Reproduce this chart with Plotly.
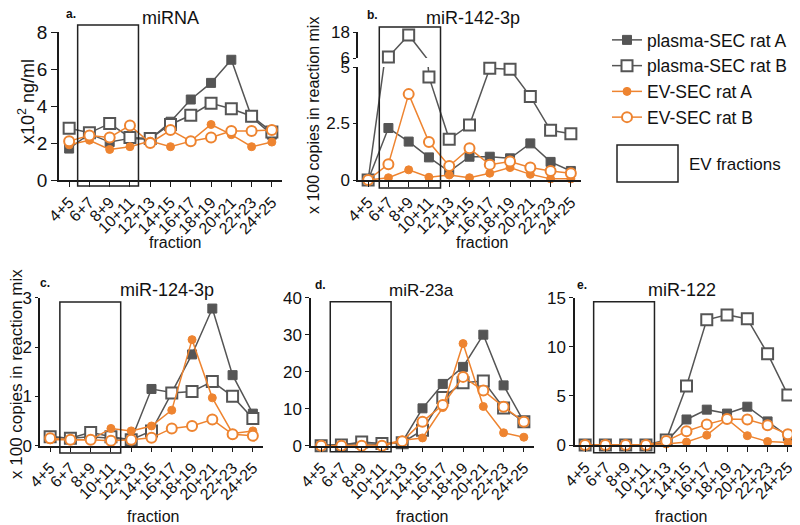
import plotly.graph_objects as go

categories = ["4+5", "6+7", "8+9", "10+11", "12+13", "14+15",
              "16+17", "18+19", "20+21", "22+23", "24+25"]
series_names = ["plasma-SEC rat A", "plasma-SEC rat B", "EV-SEC rat A", "EV-SEC rat B"]

# panel a: miRNA (x10^2 ng/ml)
a_plasma_A = [1.7, 2.5, 2.05, 2.25, 2.2, 3.15, 4.35, 5.25, 6.5, 3.4, 2.45]
a_plasma_B = [2.8, 2.55, 3.05, 2.3, 2.25, 3.0, 3.5, 4.15, 3.85, 3.45, 2.6]
a_EV_A = [1.9, 2.15, 1.65, 1.8, 2.1, 1.8, 2.1, 3.0, 2.45, 1.8, 2.05]
a_EV_B = [2.1, 2.4, 2.3, 2.95, 2.0, 2.7, 2.1, 2.3, 2.65, 2.65, 2.7]

# panel b: miR-142-3p
b_plasma_A = [0, 2.3, 1.7, 1.0, 0.37, 1.03, 1.03, 0.96, 1.62, 0.8, 0.4]
b_plasma_B = [0, 6.5, 16.6, 4.56, 1.8, 2.43, 4.94, 4.9, 3.7, 2.2, 2.05]
b_EV_A = [0, 0.1, 0.45, 0.12, 0.22, 0.1, 0.3, 0.55, 0.25, 0.05, 0.05]
b_EV_B = [0, 0.7, 3.8, 1.68, 0.62, 1.4, 0.68, 0.82, 0.55, 0.4, 0.3]

# panel c: miR-124-3p
c_plasma_A = [0.18, 0.15, 0.18, 0.15, 0.12, 1.15, 1.08, 1.85, 2.78, 1.43, 0.65]
c_plasma_B = [0.18, 0.15, 0.27, 0.18, 0.12, 0.3, 1.07, 1.1, 1.3, 1.0, 0.55]
c_EV_A = [0.12, 0.12, 0.12, 0.35, 0.3, 0.4, 0.72, 2.15, 0.97, 0.25, 0.3]
c_EV_B = [0.15, 0.12, 0.12, 0.1, 0.12, 0.16, 0.35, 0.4, 0.53, 0.23, 0.2]

# panel d: miR-23a
d_plasma_A = [0.1, 0.2, 0.5, 0.3, 1.0, 10.1, 16.7, 21.3, 30.0, 16.3, 6.5]
d_plasma_B = [0.0, 0.2, 1.0, 0.6, 0.8, 4.2, 13.0, 17.0, 17.5, 10.2, 6.5]
d_EV_A = [0.0, 0.0, 0.0, 0.2, 1.5, 2.1, 10.3, 27.6, 10.6, 3.5, 2.3]
d_EV_B = [0.0, 0.0, 0.0, 0.0, 1.2, 6.5, 11.0, 18.6, 14.9, 10.5, 6.5]

# panel e: miR-122
e_plasma_A = [0, 0, 0, 0, 0.3, 2.6, 3.6, 3.2, 3.9, 2.4, 0.9]
e_plasma_B = [0, 0, 0, 0, 0.5, 6.0, 12.75, 13.25, 12.85, 9.3, 5.1]
e_EV_A = [0, 0, 0, 0, 0.1, 0.3, 1.0, 2.65, 0.95, 0.35, 0.25]
e_EV_B = [0, 0, 0, 0, 0.4, 1.4, 2.1, 2.65, 2.6, 2.0, 1.1]

W, H = 800, 525
OX, OY = 8, 8  # page body margin compensation
FONT = "Liberation Sans, Arial, Helvetica, sans-serif"
GREY = "#555555"
ORANGE = "#EE8430"
AXC = "#1a1a1a"


def px(x):
    return (x - OX) / W


def py(y):
    return 1 - (y - OY) / H


styles = [
    dict(line=dict(color=GREY, width=1.5),
         marker=dict(symbol="square", size=9, color=GREY, line=dict(color=GREY, width=1))),
    dict(line=dict(color=GREY, width=1.5),
         marker=dict(symbol="square", size=11, color="white", line=dict(color=GREY, width=2))),
    dict(line=dict(color=ORANGE, width=1.5),
         marker=dict(symbol="circle", size=8, color=ORANGE, line=dict(color=ORANGE, width=1))),
    dict(line=dict(color=ORANGE, width=1.5),
         marker=dict(symbol="circle", size=10, color="white", line=dict(color=ORANGE, width=2))),
]

panels = {
    "a": [a_plasma_A, a_plasma_B, a_EV_A, a_EV_B],
    "b": [b_plasma_A, b_plasma_B, b_EV_A, b_EV_B],
    "c": [c_plasma_A, c_plasma_B, c_EV_A, c_EV_B],
    "d": [d_plasma_A, d_plasma_B, d_EV_A, d_EV_B],
    "e": [e_plasma_A, e_plasma_B, e_EV_A, e_EV_B],
}

axmap = {"a": ("x", "y"), "b": ("x2", "y2"), "c": ("x3", "y4"), "d": ("x4", "y5"), "e": ("x5", "y6")}

fig = go.Figure()
for key, data in panels.items():
    xa, ya = axmap[key]
    for i, vals in enumerate(data):
        fig.add_trace(go.Scatter(
            x=categories, y=vals, mode="lines+markers", name=series_names[i],
            xaxis=xa, yaxis=ya, cliponaxis=False, showlegend=(key == "a"),
            legendgroup=series_names[i], **styles[i]))
        if key == "b":
            fig.add_trace(go.Scatter(
                x=categories, y=vals, mode="lines+markers", name=series_names[i],
                xaxis="x2", yaxis="y3", cliponaxis=False, showlegend=False,
                **styles[i]))


def xaxis(x0, x1, anchor, size=16):
    return dict(domain=[px(x0), px(x1)], anchor=anchor, type="category",
                range=[-0.5, 10.5], showline=True, linecolor=AXC, linewidth=1.5,
                ticks="outside", ticklen=5, tickwidth=1.2, tickcolor=AXC,
                tickangle=-45, tickfont=dict(family=FONT, size=size, color="#111111"),
                showgrid=False, zeroline=False, fixedrange=True, automargin=False)


def yaxis(ybot, ytop, anchor, rng, tickvals, size=17, ticklen=6):
    return dict(domain=[py(ybot), py(ytop)], anchor=anchor, range=rng,
                showline=True, linecolor=AXC, linewidth=1.5,
                ticks="outside", ticklen=ticklen, tickwidth=1.2, tickcolor=AXC,
                tickvals=tickvals, tickfont=dict(family=FONT, size=size, color="#111111"),
                showgrid=False, zeroline=False, fixedrange=True, automargin=False)


fig.update_layout(
    template="none",
    width=W, height=H, margin=dict(l=0, r=0, t=0, b=0, pad=0, autoexpand=False),
    paper_bgcolor="white", plot_bgcolor="white",
    font=dict(family=FONT, color="#111111"),
    xaxis=xaxis(59, 282, "y", 16),
    yaxis=yaxis(180, 32, "x", [0, 8], [0, 2, 4, 6, 8], 19, 6),
    xaxis2=xaxis(358, 581, "y2", 16),
    yaxis2=yaxis(180, 67, "x2", [0, 5], [0, 2.5, 5], 17, 3),
    yaxis3=yaxis(58, 32, "x2", [6, 18], [6, 18], 17, 3),
    xaxis3=xaxis(40, 263, "y4", 16),
    yaxis4=yaxis(445.7, 297.7, "x3", [0, 3], [0, 1, 2, 3], 17, 3),
    xaxis4=xaxis(311, 534, "y5", 16),
    yaxis5=yaxis(445.7, 297.7, "x4", [0, 40], [0, 10, 20, 30, 40], 17, 4),
    xaxis5=xaxis(575, 798, "y6", 16),
    yaxis6=yaxis(445, 297.7, "x5", [0, 15], [0, 5, 10, 15], 17, 4),
    legend=dict(x=px(607), y=py(22), xanchor="left", yanchor="top",
                font=dict(family=FONT, size=17.5, color="#111111"),
                bgcolor="rgba(0,0,0,0)", tracegroupgap=0, itemwidth=30),
)

boxes = [("x", 0.42, 3.42, 186, 25), ("x2", 0.55, 3.57, 188, 27),
         ("x3", 0.48, 3.48, 453, 302), ("x4", 0.45, 3.45, 451.7, 301.7),
         ("x5", 0.42, 3.42, 452.7, 301.7)]
for xr, x0, x1, yb, yt in boxes:
    fig.add_shape(type="rect", xref=xr, yref="paper", x0=x0, x1=x1,
                  y0=py(yb), y1=py(yt), line=dict(color="#222222", width=1.5),
                  fillcolor="rgba(0,0,0,0)", layer="above")

fig.add_shape(type="rect", xref="paper", yref="paper", x0=px(617), x1=px(678),
              y0=py(182), y1=py(145), line=dict(color="#222222", width=1.5))


def ann(text, x, y, size, angle=0, bold=False):
    fig.add_annotation(text=("<b>%s</b>" % text) if bold else text,
                       x=px(x), y=py(y), xref="paper", yref="paper",
                       showarrow=False, textangle=angle,
                       font=dict(family=FONT, size=size, color="#111111"),
                       xanchor="center", yanchor="middle")


ann("EV fractions", 735, 165, 17)

for t, x, y in [("a.", 71, 14), ("b.", 372, 15), ("c.", 45, 283), ("d.", 320, 285), ("e.", 582, 285)]:
    ann(t, x, y, 12, bold=True)

for t, x, y, s in [("miRNA", 170, 18, 18), ("miR-142-3p", 473, 18, 18),
                   ("miR-124-3p", 167, 290, 18), ("miR-23a", 421, 290, 17),
                   ("miR-122", 682, 290, 18)]:
    ann(t, x, y, s)

for x, y, s in [(175, 242, 16), (482, 242, 16), (153, 516, 16), (422, 516, 16), (681, 516, 16)]:
    ann("fraction", x, y, s)

ann("x10<sup>2</sup> ng/ml", 27, 102, 18, angle=-90)
ann("x 100 copies in reaction mix", 313, 116, 16, angle=-90)
ann("x 100 copies in reaction mix", 16, 374, 17, angle=-90)

fig.write_html("out.html")
